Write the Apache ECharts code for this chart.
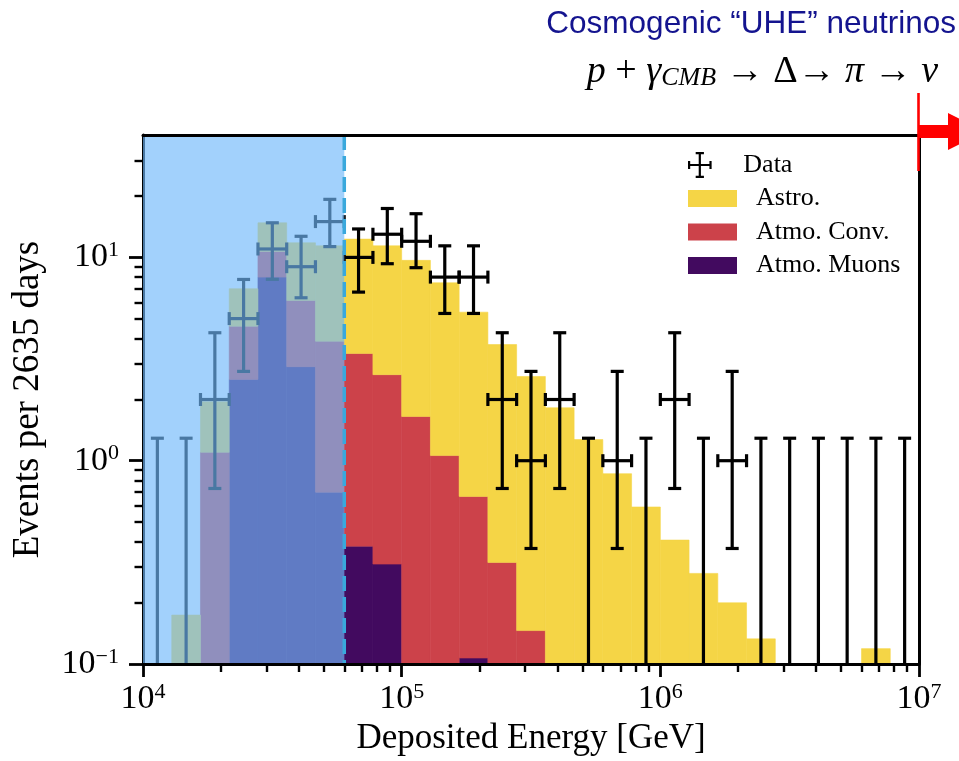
<!DOCTYPE html>
<html><head><meta charset="utf-8">
<script src="https://cdn.jsdelivr.net/npm/echarts@6/dist/echarts.min.js"></script>
<style>html,body{margin:0;padding:0;background:#fff}#c{width:959px;height:761px}</style>
</head><body><div id="c"></div>
<script>
// ---- data ----
const BIN_EDGES = [10000, 12915.5, 16681.0, 21544.3, 27825.6, 35938.1, 46415.9, 59948.4, 77426.4,
  100000, 129155, 166810, 215443, 278256, 359381, 464159, 599484, 774264,
  1000000, 1291550, 1668101, 2154435, 2782559, 3593814, 4641589, 5994843, 7742637, 10000000];
const MUONS = [0, 0, 0, 2.51, 8.0, 2.9, 0.70, 0.38, 0.31, 0, 0, 0.107, 0, 0, 0, 0, 0, 0, 0, 0, 0, 0, 0, 0, 0, 0, 0];
const CONV  = [0, 0, 1.10, 2.08, 2.7, 3.24, 3.17, 2.99, 2.34, 1.65, 1.06, 0.56, 0.316, 0.146, 0, 0, 0, 0, 0, 0, 0, 0, 0, 0, 0, 0, 0];
const ASTRO = [0, 0.174, 0.85, 2.42, 4.1, 5.66, 7.53, 8.93, 8.75, 8.02, 6.44, 4.71, 3.41, 2.45, 1.82, 1.27, 0.863, 0.592, 0.407, 0.279, 0.200, 0.133, 0, 0, 0, 0.119, 0];
const COUNTS = [0, 0, 2, 5, 11, 9, 15, 10, 13, 12, 8, 8, 2, 1, 2, 0, 1, 0, 2, 0, 1, 0, 0, 0, 0, 0, 0];
const ERR_LO = [0, 0, 0.73, 2.75, 7.8, 6.33, 11.3, 6.75, 9.31, 8.9, 5.3, 5.3, 0.73, 0.37, 0.73, 0, 0.37, 0, 0.73, 0, 0.37, 0, 0, 0, 0, 0, 0];
const ERR_HI = [1.29, 1.29, 4.26, 7.79, 14.8, 12.7, 19.3, 13.8, 17.4, 16.4, 11.4, 11.4, 4.26, 2.75, 4.26, 1.29, 2.75, 1.29, 4.26, 1.29, 2.75, 1.29, 1.29, 1.29, 1.29, 1.29, 1.29];
const X_MAJOR = [1e4, 1e5, 1e6, 1e7];
const X_MINOR = [2e4,3e4,4e4,5e4,6e4,7e4,8e4,9e4, 2e5,3e5,4e5,5e5,6e5,7e5,8e5,9e5, 2e6,3e6,4e6,5e6,6e6,7e6,8e6,9e6];
const Y_MAJOR = [0.1, 1, 10];
const Y_MINOR = [0.2,0.3,0.4,0.5,0.6,0.7,0.8,0.9, 2,3,4,5,6,7,8,9, 20,30];
const X_RANGE = [1e4, 1e7];
const Y_RANGE = [0.1, 40];
const CUT_ENERGY = 6e4;
const SERIES_NAMES = ['Data', 'Astro.', 'Atmo. Conv.', 'Atmo. Muons'];

// ---- style ----
const SERIF = '"Liberation Serif", "DejaVu Serif", serif';
const C_ASTRO = '#f5d546', C_CONV = '#cc424a', C_MUON = '#420a5f';
const Y_MIN = Y_RANGE[0];

function sup(v) {
  const e = Math.round(Math.log10(v));
  return '{b|10}{s|' + (e < 0 ? '\u2212' + (-e) : e) + '}';
}
const labelRich = {
  b: { fontFamily: SERIF, fontSize: 34, color: '#000', lineHeight: 36 },
  s: { fontFamily: SERIF, fontSize: 22, color: '#000', verticalAlign: 'top' }
};

// stacking
const muTop = MUONS.slice();
const convTop = CONV.map((v, i) => muTop[i] + v);
const astroTop = ASTRO.map((v, i) => convTop[i] + v);
const zeros = MUONS.map(() => 0);

function histSeries(name, bottoms, tops, color) {
  return {
    name, type: 'custom', xAxisIndex: 0, yAxisIndex: 0, z: 2, clip: true,
    itemStyle: { color },
    encode: { x: [0, 1], y: 3 },
    data: tops.map((t, k) => [BIN_EDGES[k], BIN_EDGES[k + 1], bottoms[k], t]),
    renderItem(params, api) {
      const xl = api.value(0), xr = api.value(1), b = api.value(2), t = api.value(3);
      if (!(t > Y_MIN) || !(t > b)) return null;
      const p1 = api.coord([xl, t]);
      const p2 = api.coord([xr, Math.max(b, Y_MIN)]);
      return { type: 'rect', shape: { x: p1[0], y: p1[1], width: p2[0] - p1[0], height: p2[1] - p1[1] },
        style: { fill: color, stroke: color, lineWidth: 0.6 } };
    }
  };
}

const errData = COUNTS.map((n, k) => [Math.sqrt(BIN_EDGES[k] * BIN_EDGES[k + 1]), n, ERR_LO[k], ERR_HI[k], BIN_EDGES[k], BIN_EDGES[k + 1]]);

const errSeries = {
  name: 'Data', type: 'custom', xAxisIndex: 0, yAxisIndex: 0, z: 3, clip: true,
  itemStyle: { color: '#000' },
  encode: { x: 0, y: 3 },
  data: errData,
  renderItem(params, api) {
    const xc = api.value(0), n = api.value(1), lo = api.value(2), hi = api.value(3), xl = api.value(4), xr = api.value(5);
    const st = { stroke: '#000', lineWidth: 3.2 };
    const top = api.coord([xc, hi]);
    const bot = api.coord([xc, Math.max(lo, Y_MIN)]);
    const cw = 6.5;
    const ch = [
      { type: 'line', shape: { x1: top[0], y1: top[1], x2: bot[0], y2: bot[1] }, style: st },
      { type: 'line', shape: { x1: top[0] - cw, y1: top[1], x2: top[0] + cw, y2: top[1] }, style: st }
    ];
    if (lo > Y_MIN) ch.push({ type: 'line', shape: { x1: bot[0] - cw, y1: bot[1], x2: bot[0] + cw, y2: bot[1] }, style: st });
    if (n > 0) {
      const L = api.coord([xl, n]), R = api.coord([xr, n]);
      ch.push({ type: 'line', shape: { x1: L[0], y1: L[1], x2: R[0], y2: R[1] }, style: st });
      ch.push({ type: 'line', shape: { x1: L[0], y1: L[1] - cw, x2: L[0], y2: L[1] + cw }, style: st });
      ch.push({ type: 'line', shape: { x1: R[0], y1: R[1] - cw, x2: R[0], y2: R[1] + cw }, style: st });
    }
    return { type: 'group', children: ch };
  }
};

const overlaySeries = {
  name: 'region', type: 'custom', xAxisIndex: 0, yAxisIndex: 0, z: 5, silent: true,
  encode: { x: [0, 1] },
  data: [[X_RANGE[0], CUT_ENERGY]],
  renderItem(params, api) {
    const cs = params.coordSys;
    const a = api.coord([api.value(0), Y_MIN]);
    const b = api.coord([api.value(1), Y_MIN]);
    return { type: 'group', children: [
      { type: 'rect', shape: { x: a[0], y: cs.y, width: b[0] - a[0], height: cs.height },
        style: { fill: 'rgba(112,184,250,0.65)' } },
      { type: 'line', shape: { x1: b[0], y1: cs.y, x2: b[0], y2: cs.y + cs.height },
        style: { stroke: '#3aa8dc', lineWidth: 3.5, lineDash: [15, 6] } }
    ] };
  }
};

const chart = echarts.init(document.getElementById('c'), null, { renderer: 'canvas' });
const axisLineStyle = { color: '#000', width: 3 };
chart.setOption({
  animation: false,
  textStyle: { fontFamily: SERIF },
  grid: { left: 143, right: 40, top: 135, bottom: 97, containLabel: false },
  xAxis: [
    { type: 'log', logBase: 10, min: X_RANGE[0], max: X_RANGE[1], position: 'bottom', z: 10,
      axisLine: { show: true, onZero: false, lineStyle: axisLineStyle },
      axisTick: { show: true, inside: false, length: 13, customValues: X_MAJOR, lineStyle: { color: '#000', width: 2.8 } },
      minorTick: { show: false }, splitLine: { show: false },
      axisLabel: { customValues: X_MAJOR, margin: 17, formatter: sup, rich: labelRich },
      name: 'Deposited Energy [GeV]', nameLocation: 'middle', nameGap: 52,
      nameTextStyle: { fontFamily: SERIF, fontSize: 35, color: '#000', verticalAlign: 'top' } },
    { type: 'log', logBase: 10, min: X_RANGE[0], max: X_RANGE[1], position: 'bottom', z: 10,
      axisLine: { show: false }, axisLabel: { show: false }, splitLine: { show: false },
      axisTick: { show: true, inside: false, length: 8, customValues: X_MINOR, lineStyle: { color: '#000', width: 2.4 } } },
    { type: 'log', logBase: 10, min: X_RANGE[0], max: X_RANGE[1], position: 'top', z: 10,
      axisLine: { show: true, onZero: false, lineStyle: axisLineStyle },
      axisTick: { show: false }, axisLabel: { show: false }, splitLine: { show: false } }
  ],
  yAxis: [
    { type: 'log', logBase: 10, min: Y_RANGE[0], max: Y_RANGE[1], position: 'left', z: 4,
      axisLine: { show: true, onZero: false, lineStyle: axisLineStyle },
      axisTick: { show: true, inside: false, length: 14, customValues: Y_MAJOR, lineStyle: { color: '#000', width: 2.8 } },
      minorTick: { show: false }, splitLine: { show: false },
      axisLabel: { customValues: Y_MAJOR, margin: 24, formatter: sup, rich: labelRich },
      name: 'Events per 2635 days', nameLocation: 'middle', nameGap: 96, nameRotate: 90,
      nameTextStyle: { fontFamily: SERIF, fontSize: 37, color: '#000' } },
    { type: 'log', logBase: 10, min: Y_RANGE[0], max: Y_RANGE[1], position: 'left', z: 4,
      axisLine: { show: false }, axisLabel: { show: false }, splitLine: { show: false },
      axisTick: { show: true, inside: false, length: 8.5, customValues: Y_MINOR, lineStyle: { color: '#000', width: 2.4 } } },
    { type: 'log', logBase: 10, min: Y_RANGE[0], max: Y_RANGE[1], position: 'right', z: 10,
      axisLine: { show: true, onZero: false, lineStyle: axisLineStyle },
      axisTick: { show: false }, axisLabel: { show: false }, splitLine: { show: false } }
  ],
  legend: [
    { orient: 'vertical', left: 688, top: 152, padding: 0, itemWidth: 49, itemHeight: 26, selectedMode: false,
      textStyle: { fontFamily: SERIF, fontSize: 26, color: '#000', lineHeight: 26, padding: [0, 0, 0, 14] },
      data: [{ name: SERIES_NAMES[0],
        icon: 'path://M12.5,0h9v2.4h-3.3v10.6h9.3v-3.3h2.4v9h-2.4v-3.3h-9.3v10.6h3.3v2.4h-9v-2.4h3.3v-10.6h-9.3v3.3h-2.4v-9h2.4v3.3h9.3v-10.6h-3.3z' }] },
    { orient: 'vertical', left: 688, top: 185.5, padding: 0, itemWidth: 49, itemHeight: 17, itemGap: 7.5, selectedMode: false,
      textStyle: { fontFamily: SERIF, fontSize: 26, color: '#000', lineHeight: 26, padding: [0, 0, 0, 14] },
      data: [{ name: SERIES_NAMES[1], icon: 'rect' }, { name: SERIES_NAMES[2], icon: 'rect' }, { name: SERIES_NAMES[3], icon: 'rect' }] }
  ],
  series: [
    histSeries(SERIES_NAMES[3], zeros, muTop, C_MUON),
    histSeries(SERIES_NAMES[2], muTop, convTop, C_CONV),
    histSeries(SERIES_NAMES[1], convTop, astroTop, C_ASTRO),
    errSeries,
    overlaySeries
  ],
  graphic: [
    { type: 'text', x: 956, y: 24, z: 20,
      style: { text: 'Cosmogenic \u201CUHE\u201D neutrinos', fontFamily: '"Liberation Sans", Arial, sans-serif',
        fontSize: 31.5, fill: '#14148f', align: 'right', verticalAlign: 'middle' } },
    { type: 'text', x: 938, y: 72, z: 20,
      style: { text: '{i|p} + {i|\u03B3}{sub|CMB} \u2192 \u0394\u2192 {i|\u03C0} \u2192 {i|\u03BD}',
        fontFamily: SERIF, fontSize: 38, fill: '#000', align: 'right', verticalAlign: 'middle',
        rich: { i: { fontFamily: SERIF, fontStyle: 'italic', fontSize: 38, fill: '#000' },
                sub: { fontFamily: SERIF, fontStyle: 'italic', fontSize: 26, fill: '#000', verticalAlign: 'bottom' } } } },
    { type: 'rect', z: 20, shape: { x: 917.2, y: 93, width: 2.6, height: 78 }, style: { fill: '#ff0000' } },
    { type: 'polygon', z: 20, shape: { points: [[919, 125], [948, 125], [948, 113], [985, 131.5], [948, 150], [948, 138], [919, 138]] },
      style: { fill: '#ff0000' } }
  ]
});
</script></body></html>
